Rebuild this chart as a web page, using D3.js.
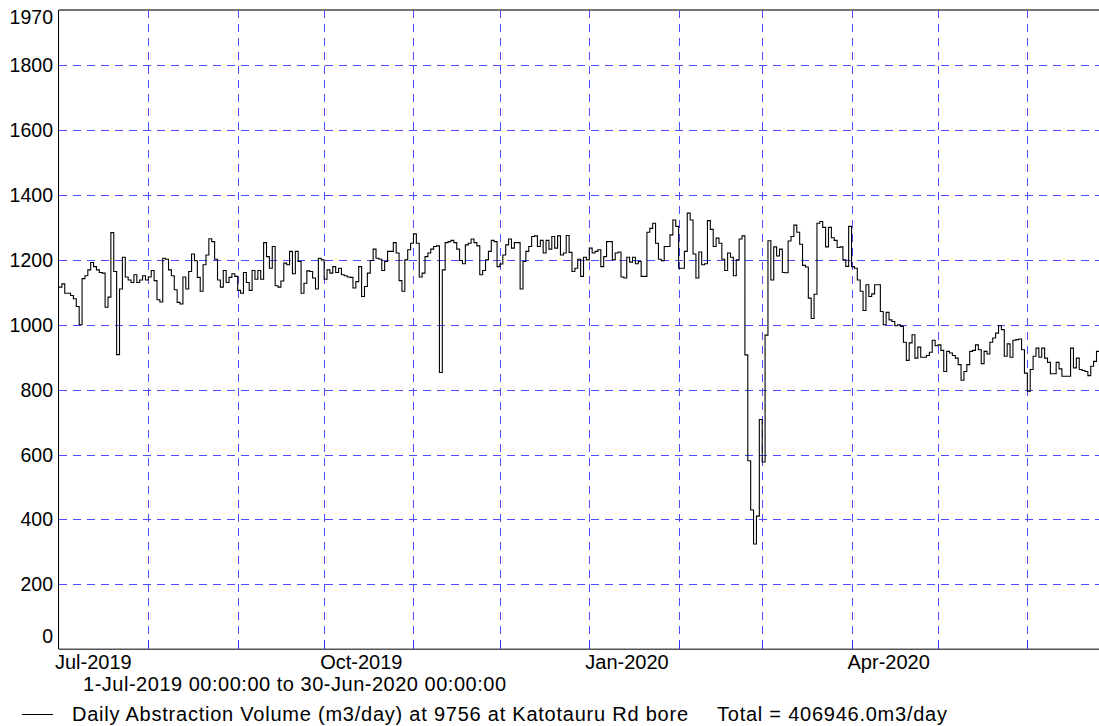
<!DOCTYPE html>
<html>
<head>
<meta charset="utf-8">
<script src="https://cdn.jsdelivr.net/npm/d3@7"></script>
<style>
	html, body { margin: 0; padding: 0; background: #fff; overflow: hidden; }
	.c-svg { width: 1099px; height: 726px; }
	svg text { font-family: "Liberation Sans", Arial, sans-serif; fill: #000; }
</style>
</head>
<body>
<div class="c-svg"></div>
<script>
//DATA
//-------------------------------------------------------------------------

//first day of the series, one value per day after that
const startDate = "2019-07-01";
const endDate = "2020-07-01";

//daily abstraction volume, m3/day
const dailyVolume = [
	1116,1126,1097,1097,1090,1080,1056,1000,1142,1151,
	1169,1192,1179,1169,1161,1159,1054,1085,1284,1164,
	908,1110,1208,1147,1138,1130,1154,1130,1138,1151,
	1138,1147,1167,1136,1077,1070,1205,1202,1169,1151,
	1108,1069,1064,1147,1110,1164,1218,1197,1146,1103,
	1185,1215,1265,1256,1202,1138,1116,1167,1130,1146,
	1157,1149,1106,1097,1161,1130,1106,1167,1140,1167,
	1140,1253,1210,
	1174,1241,1120,1116,1135,1190,1185,1226,1157,1226,
	1195,1097,1128,1166,1164,1144,1110,1205,1200,1140,
	1169,1159,1179,1161,1174,1154,1151,1147,1146,1113,
	1133,1179,1087,1118,1159,1198,1233,1205,1202,1167,
	1195,1226,1226,1253,1221,1136,1103,1200,1231,1251,
	1280,1251,1147,1159,1210,1221,1233,1241,1243,853,
	1169,1253,1256,1260,1253,1233,1198,1188,1246,1251,
	1264,
	1253,1243,1154,1167,1200,1226,1260,1256,1179,1187,
	1215,1246,1264,1236,1253,1253,1110,1195,1226,1241,
	1272,1274,1241,1260,1221,1260,1233,1272,1236,1274,
	1215,1221,1275,1223,1164,1174,1202,1149,1208,1200,
	1236,1221,1226,1231,1179,1210,1256,1256,1200,1221,
	1224,1147,1144,1208,1193,1208,1188,1195,1149,1149,
	1285,1297,1313,1251,1202,1197,1241,1241,1277,1323,
	1303,1174,
	1174,1226,1344,1323,1218,1144,1224,1185,1188,1321,
	1294,1241,1267,1251,1202,1167,1221,1208,1151,1200,
	1264,1274,907,581,429,324,410,708,577,968,
	1259,1138,1240,1212,1233,1161,1160,1258,1272,1307,
	1285,1248,1183,1178,1082,1019,1094,1313,1318,1300,
	1240,1300,1268,1260,1238,1240,1200,1180,1303,
	1179,1174,1138,1103,1044,1123,1087,1095,1123,1123,
	1041,1000,1038,1015,1010,997,1000,995,946,890,
	944,969,897,931,900,900,905,915,952,935,
	938,921,856,918,913,905,897,877,829,856,
	877,918,921,938,923,880,918,910,946,959,
	974,997,985,903,941,900,952,954,956,923,
	851,795,862,903,928,900,928,897,884,849,
	849,884,864,841,841,841,928,867,897,862,
	859,856,843,872,887,918
];

//axis
const yMax = 1970;
const yTickValues = [0, 200, 400, 600, 800, 1000, 1200, 1400, 1600, 1800, 1970];
const yGridValues = [200, 400, 600, 800, 1000, 1200, 1400, 1600, 1800];
const xLabelDates = ["2019-07-01", "2019-10-01", "2020-01-01", "2020-04-01"];
const xLabelTexts = ["Jul-2019", "Oct-2019", "Jan-2020", "Apr-2020"];

//texts
const rangeText = "1-Jul-2019 00:00:00 to 30-Jun-2020 00:00:00";
const seriesText = "Daily Abstraction Volume (m3/day) at 9756 at Katotauru Rd bore";
const totalText = "Total = 406946.0m3/day";


//INITIALISATION
//-------------------------------------------------------------------------

const opts = {
	container: ".c-svg",
	width: 1099,
	height: 726,
	margin: { top: 10, left: 59 }
};

//the plot runs past the right edge of the picture
const innerChart = {
	width: 1054.8,
	height: 639.2
};

const style = {
	grid: "#4b4bff",
	dash: "8,6",
	yFont: 19.5,
	xFont: 20,
	footFont: 20
};

const svg = d3.select(opts.container)
	.append("svg")
	.attr("width", opts.width)
	.attr("height", opts.height);

const g = svg.append("g")
	.attr("transform", `translate(${opts.margin.left} ${opts.margin.top})`);

const parse = d3.utcParse("%Y-%m-%d");
const t0 = parse(startDate);
const t1 = parse(endDate);

const x = d3.scaleUtc()
	.domain([t0, t1])
	.range([0, innerChart.width]);

const y = d3.scaleLinear()
	.domain([0, yMax])
	.range([innerChart.height, 0]);

//snap to pixel so the 1px lines stay crisp
const px = v => Math.round(v) + 0.5;


//GRID
//-------------------------------------------------------------------------

const grid = g.append("g").attr("class", "grid");

grid.selectAll(".h-grid")
	.data(yGridValues)
	.join("line")
	.attr("class", "h-grid")
	.attr("x1", 0)
	.attr("x2", innerChart.width)
	.attr("y1", d => px(y(d)))
	.attr("y2", d => px(y(d)))
	.attr("stroke", style.grid)
	.attr("stroke-width", 1)
	.attr("stroke-dasharray", style.dash);

const months = d3.utcMonth.range(d3.utcMonth.offset(t0, 1), t1);

grid.selectAll(".v-grid")
	.data(months)
	.join("line")
	.attr("class", "v-grid")
	.attr("x1", d => px(x(d)))
	.attr("x2", d => px(x(d)))
	.attr("y1", 0)
	.attr("y2", innerChart.height)
	.attr("stroke", style.grid)
	.attr("stroke-width", 1)
	.attr("stroke-dasharray", style.dash);


//LINE
//-------------------------------------------------------------------------

const series = dailyVolume.map((v, i) => ({ date: d3.utcDay.offset(t0, i), value: v }));
//close the last step
series.push({ date: d3.utcDay.offset(t0, dailyVolume.length), value: dailyVolume[dailyVolume.length - 1] });

const line = d3.line()
	.curve(d3.curveStepAfter)
	.x(d => x(d.date))
	.y(d => y(d.value));

g.append("path")
	.datum(series)
	.attr("d", line)
	.attr("fill", "none")
	.attr("stroke", "#000")
	.attr("stroke-width", 1.1);


//AXIS
//-------------------------------------------------------------------------

//frame
g.append("line")
	.attr("x1", 0).attr("x2", innerChart.width)
	.attr("y1", 0).attr("y2", 0)
	.attr("stroke", "#777")
	.attr("stroke-width", 2);

g.append("line")
	.attr("x1", 0).attr("x2", innerChart.width)
	.attr("y1", innerChart.height).attr("y2", innerChart.height)
	.attr("stroke", "#555")
	.attr("stroke-width", 1.5);

g.append("line")
	.attr("x1", -0.5).attr("x2", -0.5)
	.attr("y1", 0).attr("y2", innerChart.height)
	.attr("stroke", "#000")
	.attr("stroke-width", 1);

//small blue ticks on the time axis
g.selectAll(".x-tick")
	.data(months)
	.join("line")
	.attr("class", "x-tick")
	.attr("x1", d => px(x(d)))
	.attr("x2", d => px(x(d)))
	.attr("y1", innerChart.height - 8)
	.attr("y2", innerChart.height)
	.attr("stroke", "#3030ff")
	.attr("stroke-width", 1);

//value labels, the end ones are pulled inside the frame
g.selectAll(".y-label")
	.data(yTickValues)
	.join("text")
	.attr("class", "y-label")
	.attr("x", -6)
	.attr("y", d => {
		if (d === 0) return y(d) - 6.5;
		if (d === yMax) return y(d) + 14;
		return y(d) + 7;
	})
	.attr("text-anchor", "end")
	.style("font-size", style.yFont + "px")
	.text(d => d);

g.selectAll(".x-label")
	.data(xLabelDates)
	.join("text")
	.attr("class", "x-label")
	.attr("x", d => x(parse(d)) - 4)
	.attr("y", innerChart.height + 20)
	.style("font-size", style.xFont + "px")
	.text((d, i) => xLabelTexts[i]);


//FOOTER
//-------------------------------------------------------------------------

//the original font sets these texts a little wider
svg.append("text")
	.attr("x", 83)
	.attr("y", 691)
	.attr("textLength", 423)
	.attr("lengthAdjust", "spacing")
	.style("font-size", style.footFont + "px")
	.text(rangeText);

svg.append("line")
	.attr("x1", 22).attr("x2", 53)
	.attr("y1", 714.5).attr("y2", 714.5)
	.attr("stroke", "#000")
	.attr("stroke-width", 1);

svg.append("text")
	.attr("x", 72)
	.attr("y", 721)
	.attr("textLength", 616)
	.attr("lengthAdjust", "spacing")
	.style("font-size", style.footFont + "px")
	.text(seriesText);

svg.append("text")
	.attr("x", 717)
	.attr("y", 721)
	.attr("textLength", 230)
	.attr("lengthAdjust", "spacing")
	.style("font-size", style.footFont + "px")
	.text(totalText);
</script>
</body>
</html>
